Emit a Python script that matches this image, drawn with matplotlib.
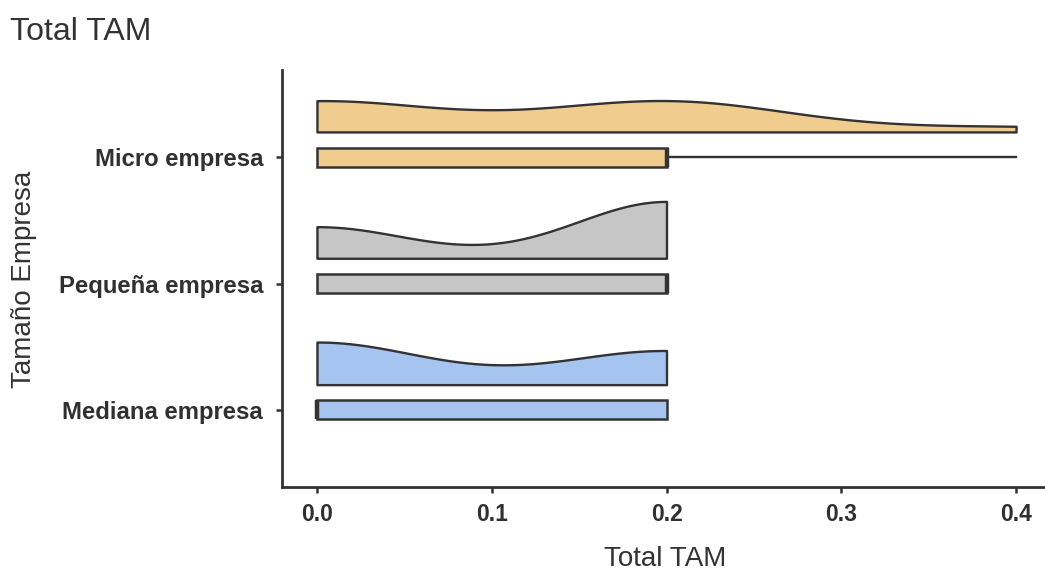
import matplotlib
matplotlib.use("Agg")
import matplotlib.pyplot as plt
import numpy as np

plt.rcParams['font.family'] = ['Liberation Sans', 'DejaVu Sans']

# Data: TAM values and how many firms of each size sit on each value
categories = ["Mediana empresa", "Pequeña empresa", "Micro empresa"]
tamLevels = [0.0, 0.2, 0.4]
countsMediana = [5, 4, 0]
countsPequena = [5, 9, 0]
countsMicro = [6, 6, 1]
fillColors = ["#A5C4F0", "#C6C6C6", "#F0CD8E"]
xTicks = [0.0, 0.1, 0.2, 0.3, 0.4]

lineColor = "#333333"
textColor = "#303030"


def nrd0(x):
    # R's default bandwidth rule, as used by ggplot's violins
    sd = np.std(x, ddof=1)
    iqr = np.percentile(x, 75) - np.percentile(x, 25)
    lo = min(sd, iqr / 1.34) if iqr > 0 else sd
    return 0.9 * lo * len(x) ** -0.2


def kde(x, grid, bw):
    z = (grid[:, None] - x[None, :]) / bw
    return np.exp(-0.5 * z ** 2).sum(axis=1) / (len(x) * bw * np.sqrt(2 * np.pi))


groups = [np.repeat(tamLevels, c) for c in (countsMediana, countsPequena, countsMicro)]

# densities trimmed to the data range, scaled to a common max ("area")
curves = []
for vals in groups:
    grid = np.linspace(vals.min(), vals.max(), 512)
    curves.append((grid, kde(vals, grid, nrd0(vals))))
globalMax = max(d.max() for _, d in curves)

fig = plt.figure(figsize=(10.45, 5.73), dpi=100)
ax = fig.add_axes([282 / 1045, 86 / 573, (1051 - 282) / 1045, (487 - 70) / 573])

for i, (grid, dens) in enumerate(curves):
    base = i + 1 + 0.2
    ax.fill_between(grid, base, base + dens / globalMax * 0.45,
                    facecolor=fillColors[i], edgecolor=lineColor, linewidth=1.7, zorder=2)

bp = ax.boxplot(groups, positions=[1, 2, 3], orientation='horizontal', widths=0.15,
                patch_artist=True, showcaps=False, showfliers=False, whis=1.5,
                boxprops=dict(edgecolor=lineColor, linewidth=1.8),
                whiskerprops=dict(color=lineColor, linewidth=1.7),
                medianprops=dict(color=lineColor, linewidth=3.2, solid_capstyle='butt'))
for patch, col in zip(bp['boxes'], fillColors):
    patch.set_facecolor(col)

ax.set_xlim(-0.02, 0.42)
ax.set_ylim(0.39, 3.69)
ax.set_xticks(xTicks)
ax.set_xticklabels(["%.1f" % t for t in xTicks])
ax.set_yticks([1, 2, 3])
ax.set_yticklabels(categories)

for s in ("top", "right"):
    ax.spines[s].set_visible(False)
for s in ("left", "bottom"):
    ax.spines[s].set_color(lineColor)
    ax.spines[s].set_linewidth(2.0)

ax.tick_params(axis='both', color=lineColor, width=1.8, length=4.5, labelcolor=textColor)
ax.tick_params(axis='x', pad=7)
ax.tick_params(axis='y', pad=9)
for lab in ax.get_xticklabels():
    lab.set_fontsize(16.5)
    lab.set_fontweight('bold')
for lab in ax.get_yticklabels():
    lab.set_fontsize(17.2)
    lab.set_fontweight('bold')

fig.text(10 / 1045, 1 - 40 / 573, "Total TAM", fontsize=23, color="#333333", va='baseline', ha='left')
fig.text(665 / 1045, 1 - 566 / 573, "Total TAM", fontsize=20, color="#333333", va='baseline', ha='center')
fig.text(31 / 1045, 1 - 279 / 573, "Tamaño Empresa", fontsize=20, color="#333333", rotation=90,
         rotation_mode='anchor', va='baseline', ha='center')

fig.savefig("out.png", dpi=100)
